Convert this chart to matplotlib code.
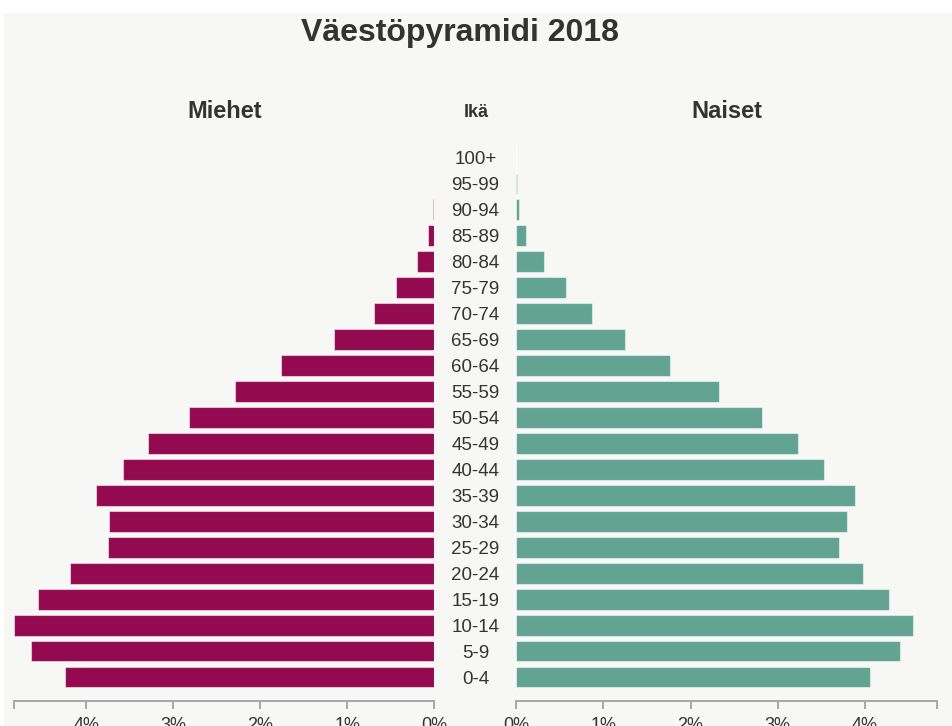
import matplotlib
matplotlib.use('Agg')
import matplotlib.pyplot as plt
import matplotlib.patches as patches
import matplotlib.transforms as mtransforms

plt.rcParams['font.family'] = ['Liberation Sans', 'DejaVu Sans']

# data (% of population), youngest first
ages = ['0-4', '5-9', '10-14', '15-19', '20-24', '25-29', '30-34', '35-39',
        '40-44', '45-49', '50-54', '55-59', '60-64', '65-69', '70-74',
        '75-79', '80-84', '85-89', '90-94', '95-99', '100+']
men = [4.24, 4.63, 4.83, 4.55, 4.19, 3.755, 3.74, 3.885, 3.58, 3.29, 2.815,
       2.29, 1.76, 1.15, 0.70, 0.44, 0.205, 0.07, 0.017, 0.002, 0.0]
women = [4.06, 4.41, 4.55, 4.28, 3.98, 3.71, 3.80, 3.885, 3.53, 3.23, 2.82,
         2.33, 1.77, 1.245, 0.87, 0.57, 0.32, 0.115, 0.035, 0.003, 0.0]
tick_vals = [0, 1, 2, 3, 4]
tick_labels = ['0%', '1%', '2%', '3%', '4%']

title = 'Väestöpyramidi 2018'
men_color = '#930a50'
women_color = '#62a391'
text_color = '#333333'
axis_color = '#a6a6a6'

W, H = 953, 726
fig = plt.figure(figsize=(W / 100, H / 100), dpi=100, facecolor='white')

# light grey panel (screenshot has a white margin top/left)
fig.patches.append(patches.Rectangle((4 / W, 0), 1, 1 - 13 / H, transform=fig.transFigure,
                                     facecolor='#f7f7f5', edgecolor='none', zorder=-10))

top, bottom = 145, 690
ax_m = fig.add_axes([14 / W, (H - bottom) / H, (434.5 - 14) / W, (bottom - top) / H])
ax_w = fig.add_axes([516.3 / W, (H - bottom) / H, (937 - 516.3) / W, (bottom - top) / H])

xmax = max(max(men), max(women))
ypos = list(range(len(ages)))

ax_m.barh(ypos, men, height=0.8, color=men_color, edgecolor=(1, 1, 1, 0.5), linewidth=0.8)
ax_w.barh(ypos, women, height=0.8, color=women_color, edgecolor=(1, 1, 1, 0.5), linewidth=0.8)

for ax, inverted in ((ax_m, True), (ax_w, False)):
    ax.set_facecolor('none')
    ax.set_ylim(-0.5, len(ages) - 0.5)
    if inverted:
        ax.set_xlim(xmax, 0)
    else:
        ax.set_xlim(0, xmax)
    ax.set_yticks([])
    ax.set_xticks(tick_vals + [xmax])
    ax.set_xticklabels(tick_labels + [''])
    ax.tick_params(axis='x', length=5.8, width=1.4, color=axis_color, pad=6,
                   labelsize=13, labelcolor=text_color)
    for s in ('top', 'left', 'right'):
        ax.spines[s].set_visible(False)
    ax.spines['bottom'].set_position(('outward', 8))
    ax.spines['bottom'].set_color(axis_color)
    ax.spines['bottom'].set_linewidth(1.4)

# thin white lines along the inner edges
ax_m.axvline(0, color='white', linewidth=1, zorder=0)
ax_w.axvline(0, color='white', linewidth=1, zorder=0)

# age labels in the middle
trans = mtransforms.blended_transform_factory(fig.transFigure, ax_w.transData)
for i, a in enumerate(ages):
    ax_w.text(475.5 / W, i, a, transform=trans, ha='center', va='center_baseline',
              fontsize=13.5, color=text_color, clip_on=False)

fig.text(460 / W, 1 - 41 / H, title, ha='center', va='baseline',
         fontsize=23, fontweight='bold', color=text_color)
fig.text(224.5 / W, 1 - 118 / H, 'Miehet', ha='center', va='baseline',
         fontsize=17, fontweight='bold', color=text_color)
fig.text(476.5 / W, 1 - 117 / H, 'Ikä', ha='center', va='baseline',
         fontsize=13, fontweight='bold', color=text_color)
fig.text(726.5 / W, 1 - 118 / H, 'Naiset', ha='center', va='baseline',
         fontsize=17, fontweight='bold', color=text_color)

fig.savefig('out.png', dpi=100, facecolor=fig.get_facecolor())
